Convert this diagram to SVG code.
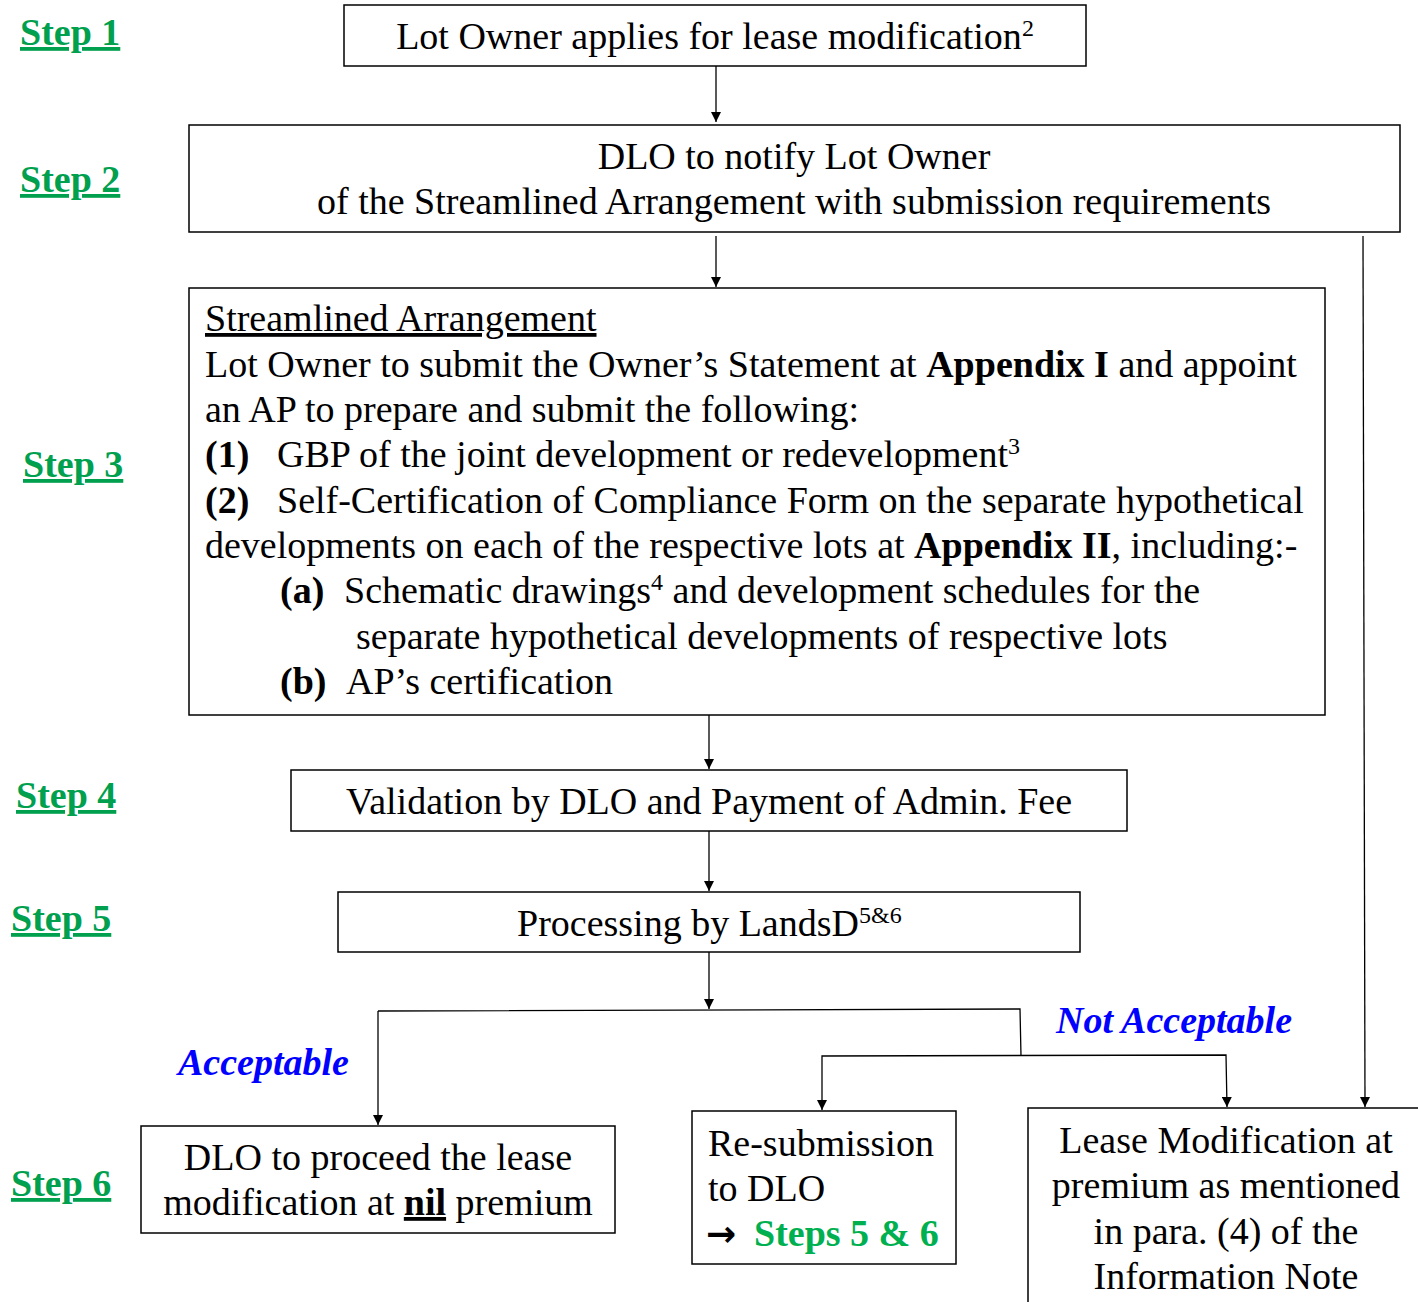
<svg xmlns="http://www.w3.org/2000/svg" width="1418" height="1302" viewBox="0 0 1418 1302">
<defs>
<marker id="ah" viewBox="0 0 10 10" refX="10" refY="5" markerWidth="10" markerHeight="10" markerUnits="userSpaceOnUse" orient="auto"><path d="M0,0 L10,5 L0,10 z" fill="#000"/></marker>
<style>
text{font-family:"Liberation Serif","Times New Roman",serif;fill:#000;font-size:38px}
.box{fill:#fff;stroke:#000;stroke-width:1.5}
.step{font-weight:bold;fill:#00A04F;text-decoration:underline}
.c{text-anchor:middle}
.b{font-weight:bold}
.lbl{font-weight:bold;font-style:italic;fill:#0000FF}
.sup{font-size:24px}
.ln{fill:none;stroke:#000;stroke-width:1.3}
.arr{fill:none;stroke:#000;stroke-width:1.3;marker-end:url(#ah)}
</style>
</defs>
<rect width="1418" height="1302" fill="#fff"/>
<g id="steps">
<text class="step" x="20" y="45">Step 1</text>
<text class="step" x="20" y="192">Step 2</text>
<text class="step" x="23" y="477">Step 3</text>
<text class="step" x="16" y="808">Step 4</text>
<text class="step" x="11" y="931">Step 5</text>
<text class="step" x="11" y="1196">Step 6</text>
</g>
<g id="connectors">
<line class="arr" x1="716" y1="66" x2="716" y2="122"/>
<line class="arr" x1="716" y1="236" x2="716" y2="287"/>
<line class="arr" x1="709" y1="715" x2="709" y2="769"/>
<line class="arr" x1="709" y1="831" x2="709" y2="891"/>
<line class="arr" x1="709" y1="952" x2="709" y2="1009"/>
<polyline class="ln" points="378,1011 1020,1009 1021,1056"/>
<line class="arr" x1="378" y1="1011" x2="378" y2="1125"/>
<polyline class="arr" points="822,1057 822,1056 1226,1055 1227,1107"/>
<line class="arr" x1="822" y1="1057" x2="822" y2="1110"/>
<line class="arr" x1="1363" y1="236" x2="1365" y2="1107"/>
</g>
<g id="n1">
<rect class="box" x="344" y="5" width="742" height="61"/>
<text class="c" x="715" y="49">Lot Owner applies for lease modification<tspan class="sup" dy="-13">2</tspan></text>
</g>
<g id="n2">
<rect class="box" x="189" y="125" width="1211" height="107"/>
<text class="c" x="794" y="169">DLO to notify Lot Owner</text>
<text class="c" x="794" y="214">of the Streamlined Arrangement with submission requirements</text>
</g>
<g id="n3">
<rect class="box" x="189" y="288" width="1136" height="427"/>
<text x="205" y="331" text-decoration="underline">Streamlined Arrangement</text>
<text x="205" y="377">Lot Owner to submit the Owner’s Statement at <tspan class="b">Appendix I</tspan> and appoint</text>
<text x="205" y="422">an AP to prepare and submit the following:</text>
<text x="205" y="467"><tspan class="b">(1)</tspan><tspan x="277">GBP of the joint development or redevelopment</tspan><tspan class="sup" dy="-13">3</tspan></text>
<text x="205" y="513"><tspan class="b">(2)</tspan><tspan x="277">Self-Certification of Compliance Form on the separate hypothetical</tspan></text>
<text x="205" y="558">developments on each of the respective lots at <tspan class="b">Appendix II</tspan>, including:-</text>
<text x="280" y="603"><tspan class="b">(a)</tspan><tspan x="344">Schematic drawings</tspan><tspan class="sup" dy="-13">4</tspan><tspan dy="13"> and development schedules for the</tspan></text>
<text x="356" y="649">separate hypothetical developments of respective lots</text>
<text x="280" y="694"><tspan class="b">(b)</tspan><tspan x="346">AP’s certification</tspan></text>
</g>
<g id="n4">
<rect class="box" x="291" y="770" width="836" height="61"/>
<text class="c" x="709" y="814">Validation by DLO and Payment of Admin. Fee</text>
</g>
<g id="n5">
<rect class="box" x="338" y="892" width="742" height="60"/>
<text x="517" y="936">Processing by LandsD<tspan class="sup" dy="-13">5&amp;6</tspan></text>
</g>
<g id="labels">
<text class="lbl" x="178" y="1075">Acceptable</text>
<text class="lbl" x="1056" y="1033">Not Acceptable</text>
</g>
<g id="n6a">
<rect class="box" x="141" y="1126" width="474" height="107"/>
<text class="c" x="378" y="1170">DLO to proceed the lease</text>
<text class="c" x="378" y="1215">modification at <tspan class="b" text-decoration="underline">nil</tspan> premium</text>
</g>
<g id="n6b">
<rect class="box" x="692" y="1111" width="264" height="153"/>
<text x="708" y="1156">Re-submission</text>
<text x="708" y="1201">to DLO</text>
<text x="706" y="1246"><tspan class="b" style="font-family:'DejaVu Sans',sans-serif;font-size:36px">→</tspan><tspan x="754" class="b" fill="#00B050">Steps 5 &amp; 6</tspan></text>
</g>
<g id="n6c">
<rect class="box" x="1028" y="1108" width="400" height="210"/>
<text class="c" x="1226" y="1153">Lease Modification at</text>
<text class="c" x="1226" y="1198">premium as mentioned</text>
<text class="c" x="1226" y="1244">in para. (4) of the</text>
<text class="c" x="1226" y="1289">Information Note</text>
</g>
</svg>
